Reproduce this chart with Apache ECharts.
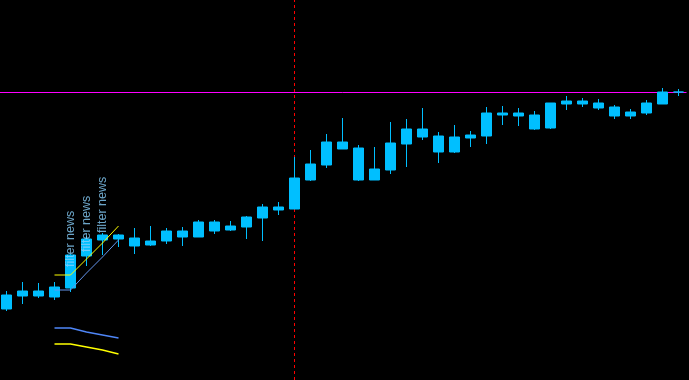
<!DOCTYPE html>
<html>
<head>
    <meta charset="UTF-8">
    <title>chart</title>
    <style type="text/css">
        *{
            margin: 0;padding: 0;
        }
        body{ background: #000; }
        #main{
            width: 689px;
            height: 380px;
        }
    </style>
    <script src="https://cdn.jsdelivr.net/npm/echarts@6/dist/echarts.min.js" type="text/javascript" charset="utf-8"></script>
</head>
<body>
<div id="main"></div>
<script type="text/javascript">
    // 蜡烛数据 [open, close, low, high]
    var candles = [
        [1.2071, 1.2085, 1.2069, 1.2089],
        [1.2084, 1.2089, 1.2076, 1.2098],
        [1.2089, 1.2084, 1.2082, 1.2097],
        [1.2083, 1.2093, 1.2080, 1.2098],
        [1.2092, 1.2125, 1.2088, 1.2126],
        [1.2124, 1.2141, 1.2114, 1.2144],
        [1.2140, 1.2145, 1.2125, 1.2147],
        [1.2145, 1.2141, 1.2133, 1.2146],
        [1.2142, 1.2134, 1.2126, 1.2152],
        [1.2135, 1.2139, 1.2134, 1.2154],
        [1.2139, 1.2149, 1.2136, 1.2152],
        [1.2149, 1.2143, 1.2134, 1.2153],
        [1.2143, 1.2158, 1.2143, 1.2160],
        [1.2158, 1.2149, 1.2146, 1.2160],
        [1.2150, 1.2154, 1.2149, 1.2159],
        [1.2153, 1.2163, 1.2141, 1.2164],
        [1.2162, 1.2173, 1.2139, 1.2176],
        [1.2173, 1.2170, 1.2165, 1.2178],
        [1.2171, 1.2202, 1.2171, 1.2223],
        [1.2200, 1.2216, 1.2199, 1.2230],
        [1.2215, 1.2238, 1.2212, 1.2246],
        [1.2238, 1.2231, 1.2231, 1.2262],
        [1.2232, 1.2200, 1.2199, 1.2235],
        [1.2200, 1.2211, 1.2200, 1.2233],
        [1.2210, 1.2237, 1.2206, 1.2258],
        [1.2236, 1.2251, 1.2213, 1.2261],
        [1.2251, 1.2243, 1.2240, 1.2272],
        [1.2244, 1.2228, 1.2217, 1.2248],
        [1.2228, 1.2243, 1.2227, 1.2255],
        [1.2242, 1.2245, 1.2233, 1.2249],
        [1.2244, 1.2267, 1.2236, 1.2273],
        [1.2267, 1.2265, 1.2255, 1.2274],
        [1.2264, 1.2267, 1.2254, 1.2272],
        [1.2265, 1.2251, 1.2250, 1.2269],
        [1.2252, 1.2277, 1.2251, 1.2277],
        [1.2276, 1.2279, 1.2270, 1.2284],
        [1.2279, 1.2276, 1.2273, 1.2282],
        [1.2277, 1.2272, 1.2270, 1.2281],
        [1.2273, 1.2264, 1.2261, 1.2275],
        [1.2264, 1.2268, 1.2261, 1.2271],
        [1.2267, 1.2277, 1.2265, 1.2280],
        [1.2276, 1.2288, 1.2276, 1.2292],
        [1.2288, 1.2288, 1.2284, 1.2291]
    ];
    var categories = candles.map(function (c, i) { return 'bar' + i; });

    // 指标线 (从第3根开始)
    var lineStart = 3;
    var yellowUpper = [1.2105, 1.2105, 1.2121, 1.2137, 1.2154];
    var blueUpper = [1.2090, 1.2090, 1.2107, 1.2123, 1.2140];
    var blueLower = [1.2052, 1.2052, 1.2048, 1.2045, 1.2042];
    var yellowLower = [1.2036, 1.2036, 1.2033, 1.2030, 1.2026];

    // 文字标注
    var newsText = 'filter news';
    var newsIndex = [4, 5, 6];
    var newsPrice = [1.2113, 1.2128, 1.2147];

    var currentPrice = 1.2288;
    var markedBar = 18;

    function toLine(arr) {
        return arr.map(function (v, i) { return [lineStart + i, v]; });
    }

    var myChart = echarts.init(document.getElementById('main'));

    var candleColor = '#00bfff';

    option = {
        backgroundColor: '#000',
        animation: false,
        grid: {
            left: -1.5,
            right: 2.5,
            top: 0,
            bottom: 0,
            containLabel: false,
            outerBoundsMode: 'none'
        },
        xAxis: {
            type: 'category',
            data: categories,
            boundaryGap: true,
            show: false
        },
        yAxis: {
            type: 'value',
            min: 1.2000,
            max: 1.2380,
            show: false,
            splitLine: {show: false}
        },
        series: [
            {
                type: 'candlestick',
                data: candles,
                barWidth: 10,
                z: 3,
                itemStyle: {
                    color: candleColor,
                    color0: candleColor,
                    borderColor: candleColor,
                    borderColor0: candleColor,
                    borderWidth: 1
                },
                markLine: {
                    silent: true,
                    z: 1,
                    precision: 4,
                    symbol: ['none', 'none'],
                    label: {show: false},
                    data: [
                        {
                            xAxis: markedBar,
                            lineStyle: {color: '#ff0000', type: [3, 3], width: 1, opacity: 1}
                        },
                        {
                            yAxis: currentPrice,
                            lineStyle: {color: '#ff00ff', type: 'solid', width: 1}
                        }
                    ]
                }
            },
            {
                type: 'line',
                z: 4,
                data: toLine(yellowUpper),
                symbol: 'none',
                lineStyle: {color: '#ffff00', width: 1}
            },
            {
                type: 'line',
                z: 4,
                data: toLine(blueUpper),
                symbol: 'none',
                lineStyle: {color: '#6495ed', width: 1}
            },
            {
                type: 'line',
                z: 4,
                data: toLine(blueLower),
                symbol: 'none',
                lineStyle: {color: '#4f86f7', width: 1.3}
            },
            {
                type: 'line',
                z: 4,
                data: toLine(yellowLower),
                symbol: 'none',
                lineStyle: {color: '#ffff00', width: 1.3}
            },
            {
                type: 'scatter',
                symbolSize: 0,
                z: 6,
                data: newsIndex.map(function (x, i) { return [x, newsPrice[i]]; }),
                label: {
                    show: true,
                    formatter: newsText,
                    position: 'inside',
                    rotate: 90,
                    align: 'left',
                    verticalAlign: 'middle',
                    color: '#87cefa',
                    fontSize: 12.5,
                    fontFamily: 'Liberation Sans'
                }
            }
        ]
    };
    myChart.setOption(option);
</script>
</body>
</html>
